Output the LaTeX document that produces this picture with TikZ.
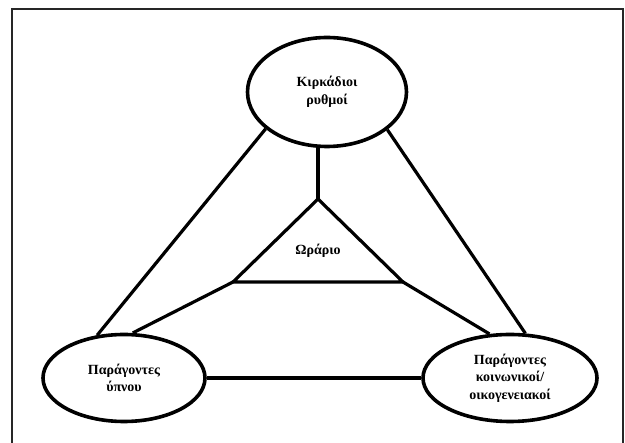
\documentclass[tikz,border=0pt]{standalone}
\usepackage{fontspec}
\setmainfont{Liberation Serif}
\usetikzlibrary{shapes.geometric}
\begin{document}
\begin{tikzpicture}[x=1pt,y=-1pt,
  oval/.style={ellipse,draw,line width=3.6pt,inner sep=0pt,align=center,
    font=\bfseries\fontsize{14}{17.5}\selectfont},
  link/.style={line width=3.2pt},
  frame/.style={line width=1.8pt,draw=black!85}]
\useasboundingbox (0,0) rectangle (625,443);
\draw[frame] (12,460) -- (12,9) -- (623,9) -- (623,460);
\node[oval,minimum width=159pt,minimum height=109pt] (top) at (327,92) {Κιρκάδιοι\\ρυθμοί};
\node[oval,minimum width=162pt,minimum height=87pt] (left) at (124,378) {Παράγοντες\\ύπνου};
\node[oval,minimum width=174pt,minimum height=87pt] (right) at (510,378) {Παράγοντες\\κοινωνικοί/\\οικογενειακοί};
\coordinate (apex) at (318,199);
\coordinate (tl) at (233,282);
\coordinate (tr) at (403,282);
\coordinate (vt) at (318,146);
\node[font=\bfseries\fontsize{14}{17.5}\selectfont] (hr) at (318,251) {Ωράριο};
\draw[link,line join=miter] (apex) -- (tl) -- (tr) -- cycle;
\draw[link] (apex) -- (vt);
\draw[link] (top.211) -- (left.122);
\draw[link] (top.328) -- (right.71);
\draw[link] (tl) -- (left.79);
\draw[link] (tr) -- (right.115);
\draw[link] (left.east) -- (right.west);
\end{tikzpicture}
\end{document}
